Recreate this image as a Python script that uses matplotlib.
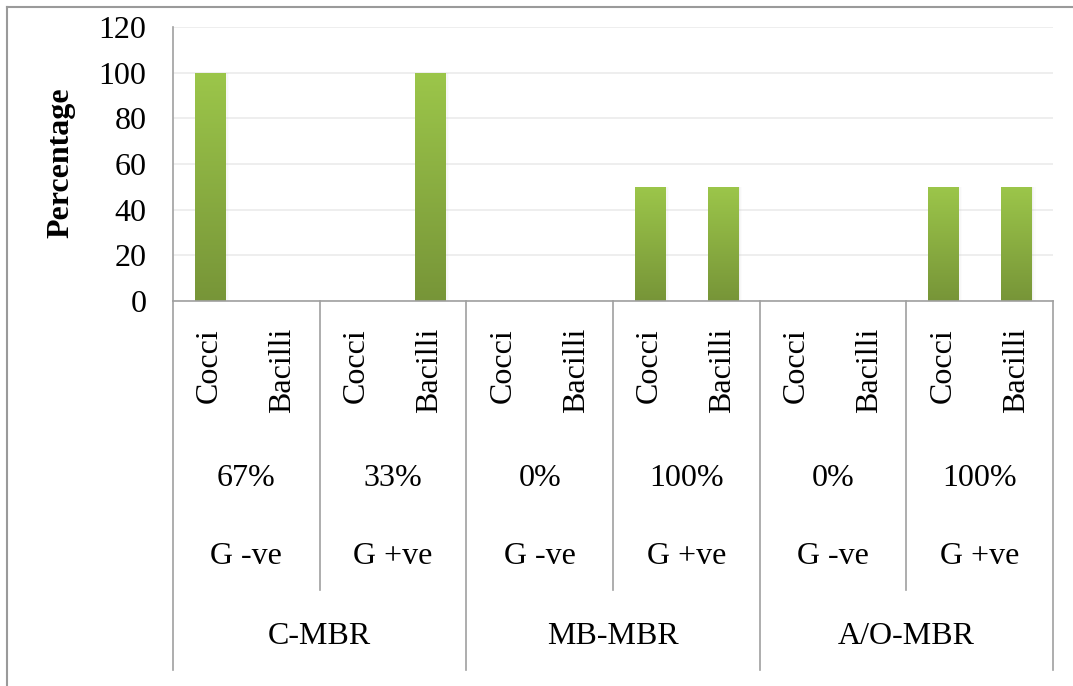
import matplotlib.pyplot as plt
import matplotlib.transforms as mtransforms
from matplotlib.lines import Line2D
from matplotlib.colors import LinearSegmentedColormap
import numpy as np

plt.rcParams['font.family'] = ['Liberation Serif', 'DejaVu Serif']

# data
shapes = ['Cocci', 'Bacilli'] * 6
percentages = [100, 0, 0, 100, 0, 0, 50, 50, 0, 0, 50, 50]
gram_share = ['67%', '33%', '0%', '100%', '0%', '100%']
gram_type = ['G -ve', 'G +ve', 'G -ve', 'G +ve', 'G -ve', 'G +ve']
reactors = ['C-MBR', 'MB-MBR', 'A/O-MBR']

FS = 23
W, H = 1073, 686
fig = plt.figure(figsize=(W / 100, H / 100), dpi=100)
ax = fig.add_axes([173 / W, 1 - 301 / H, 880 / W, 274 / H])

x = np.arange(len(shapes))
ax.set_xlim(-0.5, len(shapes) - 0.5)
ax.set_ylim(0, 120)
ax.set_yticks(range(0, 121, 20))
ax.tick_params(axis='y', length=0, labelsize=FS, pad=19)
ax.set_xticks([])
ax.yaxis.grid(True, color='#ebebeb', linewidth=1.2)
ax.set_axisbelow(True)
for s in ['top', 'right']:
    ax.spines[s].set_visible(False)
ax.spines['left'].set_color('#a0a0a0')
ax.spines['bottom'].set_color('#a0a0a0')
ax.spines['left'].set_linewidth(1.2)
ax.spines['bottom'].set_linewidth(1.2)
ax.set_ylabel('Percentage', fontsize=FS, fontweight='bold')
ax.yaxis.set_label_coords(-98 / 880, 0.505)

# gradient bars with a soft shadow
cmap = LinearSegmentedColormap.from_list('grn', ['#779538', '#9cc64a'])
grad = np.linspace(0, 1, 256).reshape(-1, 1)
bars = ax.bar(x, percentages, width=0.41, color='none', edgecolor='none')
for b, v in zip(bars, percentages):
    if v <= 0:
        continue
    x0, w = b.get_x(), b.get_width()
    for k, a in enumerate([0.06, 0.04, 0.02]):
        ax.bar(x0 + w / 2 + 0.02 * (k + 1), v, width=w, bottom=0,
               color='#888888', alpha=a, edgecolor='none', zorder=1)
    im = ax.imshow(grad, cmap=cmap, aspect='auto', origin='lower',
                   extent=(x0, x0 + w, 0, v), zorder=2)
    im.set_clip_path(b)
ax.set_xlim(-0.5, len(shapes) - 0.5)
ax.set_ylim(0, 120)

# multi-level category axis
tr = mtransforms.blended_transform_factory(ax.transData, fig.transFigure)
fy = lambda py: 1 - py / H
line_kw = dict(color='#a0a0a0', linewidth=1.2, transform=tr, clip_on=False)
for xb in [-0.5, 3.5, 7.5, 11.5]:
    fig.add_artist(Line2D([xb, xb], [fy(301), fy(670)], **line_kw))
for xb in [1.5, 5.5, 9.5]:
    fig.add_artist(Line2D([xb, xb], [fy(301), fy(590)], **line_kw))

for i, name in enumerate(shapes):
    ax.text(i, fy(328), name, transform=tr, rotation=90, ha='center',
            va='top', fontsize=FS)
for j, (p, g) in enumerate(zip(gram_share, gram_type)):
    cx = 2 * j + 0.5
    ax.text(cx, fy(478), p, transform=tr, ha='center', va='center', fontsize=FS)
    ax.text(cx, fy(557), g, transform=tr, ha='center', va='center', fontsize=FS)
for k, r in enumerate(reactors):
    ax.text(4 * k + 1.5, fy(637), r, transform=tr, ha='center', va='center',
            fontsize=FS)

# chart border (cut off on right and bottom)
border_kw = dict(color='#9a9a9a', linewidth=1.5)
fig.add_artist(Line2D([7 / W, 7 / W], [fy(7), 0], **border_kw))
fig.add_artist(Line2D([7 / W, 1], [fy(7), fy(7)], **border_kw))

fig.savefig('out.png', dpi=100)
